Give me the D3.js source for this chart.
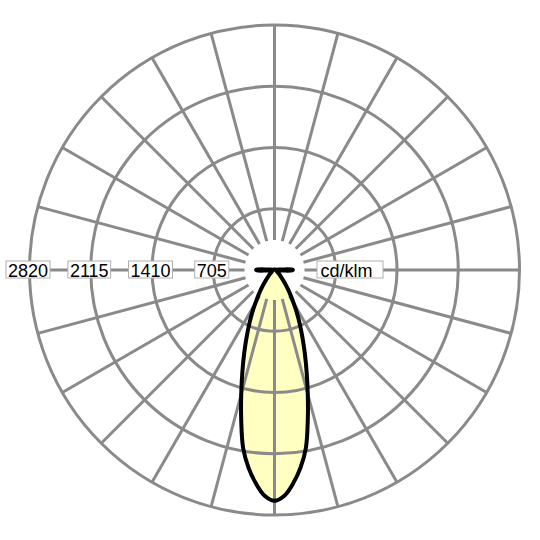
<!DOCTYPE html>
<html>
<head>
<meta charset="utf-8">
<script src="https://cdn.jsdelivr.net/npm/d3@7"></script>
<style>
  html, body { margin: 0; padding: 0; background: #fff; }
  svg { display: block; }
</style>
</head>
<body>
<div id="grafico"></div>
<script>
// Ring values (cd/klm) and unit label
const aneis = [705, 1410, 2115, 2820];
const unidade = "cd/klm";

// Gamma angles (0 = straight down) and luminous intensity, symmetric curve
const gamas = [0, 2.5, 5, 7.5, 10, 12.5, 15, 17.5, 20, 22.5, 25, 27.5, 30, 35, 40, 45, 50, 55, 60, 70, 80, 86, 89, 91, 94, 100, 120, 150, 180];
const intensidades = [2655, 2600, 2465, 2295, 2080, 1770, 1480, 1230, 1020, 840, 690, 560, 440, 270, 155, 95, 60, 40, 30, 25, 30, 90, 205, 210, 90, 20, 10, 5, 5];

// Spoke angles (degrees)
const raios = d3.range(0, 360, 15);

const largura = 540, altura = 540;
const cx = 274.5, cy = 270, raioMax = 245, raioInterno = 30;

const svg = d3.select("#grafico").append("svg")
    .attr("width", largura)
    .attr("height", altura);

svg.append("rect").attr("width", largura).attr("height", altura).attr("fill", "#fff");

const g = svg.append("g").attr("transform", `translate(${cx},${cy})`);

const escalaR = d3.scaleLinear().domain([0, 2820]).range([0, raioMax]);

// Build closed curve: right side going up, then left side back down
const pontos = [];
gamas.forEach((gm, i) => pontos.push({ a: Math.PI - gm * Math.PI / 180, r: intensidades[i] }));
for (let i = gamas.length - 2; i > 0; i--) {
    pontos.push({ a: Math.PI + gamas[i] * Math.PI / 180, r: intensidades[i] });
}

const linha = d3.lineRadial()
    .angle(d => d.a)
    .radius(d => escalaR(d.r))
    .curve(d3.curveCatmullRomClosed.alpha(0.5));

// Fill underneath the grid
g.append("path")
    .attr("d", linha(pontos))
    .attr("fill", "#ffffc2")
    .attr("stroke", "none");

// Grid rings
g.append("g").selectAll("circle")
    .data(aneis)
    .join("circle")
    .attr("r", d => escalaR(d))
    .attr("fill", "none")
    .attr("stroke", "#8a8a8a")
    .attr("stroke-width", 3);

// Spokes
g.append("g").selectAll("line")
    .data(raios)
    .join("line")
    .attr("x1", d => raioInterno * Math.cos(d * Math.PI / 180))
    .attr("y1", d => raioInterno * Math.sin(d * Math.PI / 180))
    .attr("x2", d => raioMax * Math.cos(d * Math.PI / 180))
    .attr("y2", d => raioMax * Math.sin(d * Math.PI / 180))
    .attr("stroke", "#8a8a8a")
    .attr("stroke-width", 3);

// Labels on the left horizontal axis
const rotulos = g.append("g").attr("font-family", "'Liberation Sans', Arial, sans-serif").attr("font-size", 18);

aneis.forEach(v => {
    const grupo = rotulos.append("g");
    const caixa = grupo.append("rect");
    const texto = grupo.append("text")
        .attr("x", -escalaR(v) - 1.5)
        .attr("y", 6.5)
        .attr("text-anchor", "middle")
        .attr("fill", "#000")
        .text(v);
    const bb = texto.node().getBBox();
    caixa.attr("x", bb.x - 2).attr("y", -9).attr("width", bb.width + 4).attr("height", 17)
        .attr("fill", "#fff").attr("stroke", "#b0b0b0").attr("stroke-width", 1);
});

// Unit label on the right
const grupoU = rotulos.append("g");
grupoU.append("rect")
    .attr("x", 42.5).attr("y", -9).attr("width", 66).attr("height", 17)
    .attr("fill", "#fff").attr("stroke", "#b0b0b0").attr("stroke-width", 1);
grupoU.append("text")
    .attr("x", 46)
    .attr("y", 6.5)
    .attr("fill", "#000")
    .text(unidade);

// Curve outline on top
g.append("path")
    .attr("d", linha(pontos))
    .attr("fill", "none")
    .attr("stroke", "#000")
    .attr("stroke-width", 4)
    .attr("stroke-linejoin", "round");
</script>
</body>
</html>
